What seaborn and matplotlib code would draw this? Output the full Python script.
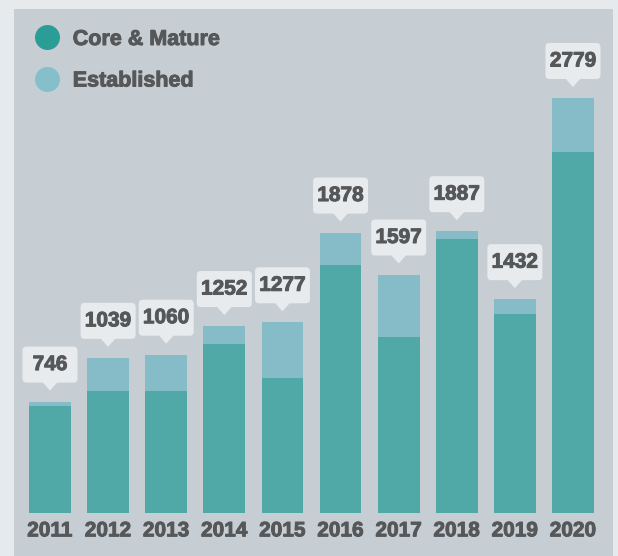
import matplotlib
matplotlib.use("Agg")
import matplotlib.pyplot as plt
import matplotlib.patheffects as pe
from matplotlib.patches import FancyBboxPatch, Polygon, Rectangle
from matplotlib.lines import Line2D
from matplotlib.transforms import IdentityTransform
import pandas as pd
import seaborn as sns

# Data
years = ["2011", "2012", "2013", "2014", "2015", "2016", "2017", "2018", "2019", "2020"]
totals = [746, 1039, 1060, 1252, 1277, 1878, 1597, 1887, 1432, 2779]
core_mature = [717, 817, 817, 1132, 904, 1661, 1179, 1835, 1333, 2418]

CORE_BAR = "#50a8a7"
EST_BAR = "#86bbc8"
CORE_DOT = "#2a9d96"
EST_DOT = "#86bfcc"
PANEL = "#c6ced4"
OUTER = "#e6eaec"
BOX = "#e8ebee"
TEXT = "#555759"
FS = 15
# slightly heavier bold, like the reference
THICK = [pe.withStroke(linewidth=0.7, foreground=TEXT)]

sns.set_style("white")
plt.rcParams["font.family"] = ["Liberation Sans", "DejaVu Sans"]

W, H = 618, 556
fig = plt.figure(figsize=(W / 100, H / 100), dpi=100, facecolor=OUTER)

# grey panel behind the chart
fig.patches.append(Rectangle((14 / W, 0), (613 - 14) / W, (H - 9) / H,
                             transform=fig.transFigure, facecolor=PANEL,
                             edgecolor="none", zorder=-10))

# axes placed so 0 sits at y=513px and bar centres at 50..573px
px_per_cat = (573 - 50) / 9
left = 50 - px_per_cat / 2
right = 573 + px_per_cat / 2
ymax = 3000
px_per_unit = (513 - 98) / 2779
top_px = 513 - ymax * px_per_unit
ax = fig.add_axes([left / W, (H - 513) / H, (right - left) / W, (513 - top_px) / H])
ax.set_facecolor("none")
ax.set_zorder(1)

df = pd.DataFrame({"year": years, "total": totals, "core": core_mature})
sns.barplot(data=df, x="year", y="total", color=EST_BAR, saturation=1, width=0.72,
            linewidth=0, edgecolor="none", ax=ax)
sns.barplot(data=df, x="year", y="core", color=CORE_BAR, saturation=1, width=0.72,
            linewidth=0, edgecolor="none", ax=ax)

ax.set_xlim(-0.5, 9.5)
ax.set_ylim(0, ymax)
ax.set_xlabel("")
ax.set_ylabel("")
ax.set_yticks([])
ax.tick_params(axis="x", length=0, pad=6, labelsize=FS, labelcolor=TEXT)
for lbl in ax.get_xticklabels():
    lbl.set_fontweight("bold")
    lbl.set_path_effects(THICK)
sns.despine(ax=ax, left=True, bottom=True)

# value call-outs above each bar
fig.canvas.draw()
for i, tot in enumerate(totals):
    bx, by = ax.transData.transform((i, tot))
    tip = by + 11
    base = tip + 8
    box_w, box_h = 55, 36
    fig.patches.append(Polygon([(bx - 8, base + 1), (bx + 8, base + 1), (bx, tip)],
                               closed=True, transform=IdentityTransform(),
                               facecolor=BOX, edgecolor="none", zorder=3))
    fig.patches.append(FancyBboxPatch((bx - box_w / 2, base), box_w, box_h,
                                      boxstyle="round,pad=0,rounding_size=4",
                                      transform=IdentityTransform(),
                                      facecolor=BOX, edgecolor="none", zorder=3))
    fig.text(bx / W, (base + box_h / 2) / H, str(tot), ha="center", va="center",
             fontsize=FS, fontweight="bold", color=TEXT, zorder=4, path_effects=THICK)

handles = [Line2D([], [], linestyle="none", marker="o", markersize=18,
                  markerfacecolor=CORE_DOT, markeredgecolor="none"),
           Line2D([], [], linestyle="none", marker="o", markersize=18,
                  markerfacecolor=EST_DOT, markeredgecolor="none")]
leg = fig.legend(handles, ["Core & Mature", "Established"], loc="upper left",
                 bbox_to_anchor=(34 / W, 1 - 29 / H), frameon=False,
                 prop={"size": 15.5, "weight": "bold"}, labelcolor=TEXT,
                 handlelength=1.2, handletextpad=0.6, labelspacing=0.95,
                 borderpad=0, borderaxespad=0)
leg.set_zorder(5)
for t in leg.get_texts():
    t.set_path_effects(THICK)

fig.savefig("out.png", dpi=100, facecolor=OUTER)
